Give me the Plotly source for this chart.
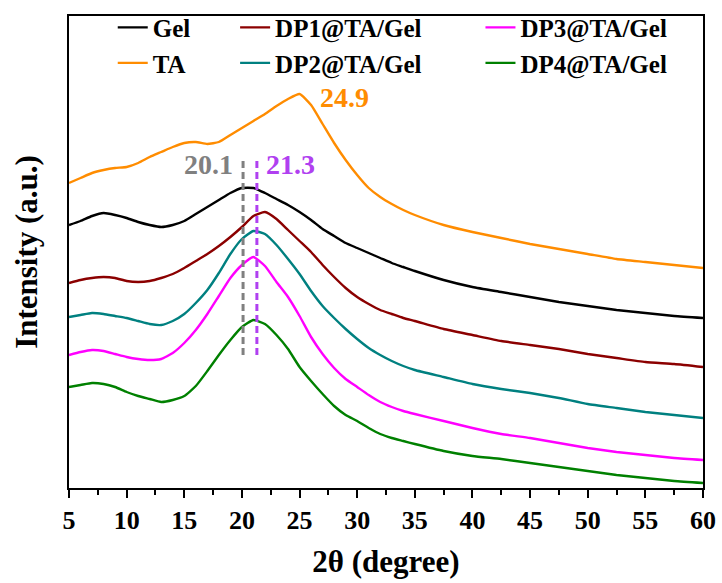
import plotly.graph_objects as go

two_theta = [5, 6, 7, 8, 9, 10, 11, 12, 13, 14, 15, 16, 17, 18, 19, 20, 21, 22, 23, 24, 25,
             26, 27, 28, 29, 30, 31, 32, 33, 34, 35, 37.5, 40, 42.5, 45, 47.5, 50, 52.5, 55, 57.5, 60]

gel = [262, 266, 271, 274, 272, 269, 265, 262, 260, 262, 266, 273, 280, 287, 294, 299, 299, 294, 288, 282, 275,
       267, 258, 251, 244, 239, 234, 229, 224, 220, 216, 207, 200, 195, 190, 185, 181, 177, 174, 171, 169]
ta = [304, 309, 314, 317, 319, 320, 324, 330, 335, 340, 344, 345, 343, 345, 352, 359, 366, 373, 381, 388, 393,
      382, 363, 344, 327, 312, 299, 290, 283, 277, 272, 262, 255, 249, 243, 238, 233, 228, 225, 222, 219]
dp1 = [204, 207, 209, 210, 209, 206, 205, 206, 209, 213, 219, 226, 233, 241, 250, 260, 271, 275, 268, 257, 246,
       235, 222, 210, 199, 190, 183, 177, 173, 169, 166, 158, 152, 146, 142, 138, 133, 129, 125, 123, 120]
dp2 = [170, 172, 174, 173, 171, 169, 166, 163, 162, 166, 173, 184, 197, 214, 233, 248, 256, 253, 242, 228, 213,
       196, 181, 169, 158, 148, 139, 132, 126, 121, 117, 110, 103, 98, 94, 89, 83, 79, 75, 72, 69]
dp3 = [132, 135, 137, 136, 133, 130, 128, 127, 128, 134, 144, 157, 173, 191, 209, 222, 230, 221, 205, 190, 171,
       150, 133, 119, 108, 100, 92, 85, 80, 76, 73, 66, 59, 53, 49, 44, 39, 35, 32, 29, 27]
dp4 = [100, 102, 104, 103, 100, 95, 91, 88, 85, 87, 91, 101, 116, 132, 147, 160, 167, 163, 152, 138, 120,
       106, 93, 81, 72, 66, 59, 53, 49, 46, 43, 36, 31, 28, 24, 20, 16, 12, 9, 6, 4]

series_names = ["Gel", "TA", "DP1@TA/Gel", "DP2@TA/Gel", "DP3@TA/Gel", "DP4@TA/Gel"]
series_values = [gel, ta, dp1, dp2, dp3, dp4]
series_colors = ["#000000", "#FF8C00", "#8B0000", "#008080", "#FF00FF", "#008000"]
series_legends = ["legend", "legend", "legend2", "legend2", "legend3", "legend3"]

peak_positions = [20.1, 21.3]
peak_colors = ["#808080", "#B040F0"]
peak_line_range = [132, 329]
ta_peak = 24.9
ta_peak_label_y = 390

fig = go.Figure()
for name, vals, col, lg in zip(series_names, series_values, series_colors, series_legends):
    fig.add_trace(go.Scatter(x=two_theta, y=vals, mode="lines", name=name,
                             line=dict(color=col, width=2.4, shape="spline", smoothing=0.5),
                             legend=lg))

for pos, col in zip(peak_positions, peak_colors):
    fig.add_shape(type="line", x0=pos, x1=pos, y0=peak_line_range[0], y1=peak_line_range[1],
                  xref="x", yref="y", line=dict(color=col, width=3, dash="7px,4px"))

font_fam = "Liberation Serif"
fig.add_annotation(x=peak_positions[0], y=peak_line_range[1] - 6, text=f"{peak_positions[0]}",
                   xref="x", yref="y", xanchor="right", xshift=-8, showarrow=False,
                   font=dict(family=font_fam, size=28, color=peak_colors[0], weight="bold"))
fig.add_annotation(x=peak_positions[1], y=peak_line_range[1] - 6, text=f"{peak_positions[1]}",
                   xref="x", yref="y", xanchor="left", xshift=7, showarrow=False,
                   font=dict(family=font_fam, size=28, color=peak_colors[1], weight="bold"))
fig.add_annotation(x=ta_peak, y=ta_peak_label_y, text=f"{ta_peak}",
                   xref="x", yref="y", xanchor="left", xshift=20, showarrow=False,
                   font=dict(family=font_fam, size=28, color="#FF8C00", weight="bold"))

legend_common = dict(font=dict(family=font_fam, size=25, color="black", weight="bold"),
                     bgcolor="rgba(0,0,0,0)", yanchor="top", xanchor="left", tracegroupgap=0)

fig.update_layout(
    width=722, height=583,
    margin=dict(l=69, r=19, t=16, b=95, autoexpand=False),
    plot_bgcolor="white", paper_bgcolor="white",
    legend=dict(x=0.069, y=1.024, **legend_common),
    legend2=dict(x=0.262, y=1.024, **legend_common),
    legend3=dict(x=0.649, y=1.024, **legend_common),
    xaxis=dict(range=[5, 60], dtick=5, tick0=5, showline=True, linecolor="black", linewidth=2,
               mirror=True, ticks="outside", ticklen=8, tickwidth=2, tickcolor="black",
               minor=dict(dtick=2.5, ticks="outside", ticklen=5, tickwidth=2, tickcolor="black"),
               showgrid=False, zeroline=False, automargin=False,
               tickfont=dict(family=font_fam, size=26, color="black", weight="bold"),
               title=dict(text="2θ (degree)", standoff=16,
                          font=dict(family=font_fam, size=31, color="black", weight="bold"))),
    yaxis=dict(range=[-1, 471], showline=True, linecolor="black", linewidth=2, mirror=True,
               ticks="", showticklabels=False, showgrid=False, zeroline=False, automargin=False,
               title=dict(text="Intensity (a.u.)", standoff=20,
                          font=dict(family=font_fam, size=31, color="black", weight="bold"))),
)

fig.write_html("out.html")
